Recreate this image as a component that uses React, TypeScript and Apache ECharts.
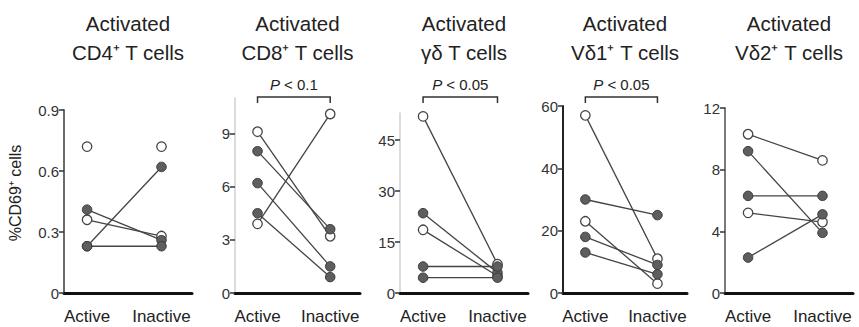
import React, { useEffect, useRef } from "react";
import * as echarts from "echarts";

const groups = ["Active", "Inactive"];

const panelTitles = [
  "Activated\nCD4⁺ T cells",
  "Activated\nCD8⁺ T cells",
  "Activated\nγδ T cells",
  "Activated\nVδ1⁺ T cells",
  "Activated\nVδ2⁺ T cells",
];

// each pair: [active, inactive]; filled = dark marker, open = white marker
const cd4Filled = [[0.23, 0.62], [0.41, 0.26], [0.23, 0.23]];
const cd4Open = [[0.36, 0.28]];
const cd4OpenUnlinked = [[0.72, 0.72]];

const cd8Filled = [[8.0, 3.6], [6.2, 1.5], [4.5, 0.9]];
const cd8Open = [[9.1, 3.2], [3.9, 10.1]];

const gdFilled = [[23.5, 6.0], [7.8, 7.8], [4.5, 4.5]];
const gdOpen = [[52, 8.5], [18.6, 5.0]];

const vd1Filled = [[30, 25], [18, 9], [13, 6]];
const vd1Open = [[57, 11], [23, 3]];

const vd2Filled = [[9.2, 3.9], [6.3, 6.3], [2.3, 5.1]];
const vd2Open = [[10.3, 8.6], [5.2, 4.6]];

const yTicks = [
  [0, 0.3, 0.6, 0.9],
  [0, 3, 6, 9],
  [0, 15, 30, 45],
  [0, 20, 40, 60],
  [0, 4, 8, 12],
];
const yMax = [0.9, 11, 53, 60, 12];

const pLabels = [null, "P < 0.1", "P < 0.05", "P < 0.05", null];

const panels = [
  { filled: cd4Filled, open: cd4Open, unlinked: cd4OpenUnlinked },
  { filled: cd8Filled, open: cd8Open, unlinked: [] },
  { filled: gdFilled, open: gdOpen, unlinked: [] },
  { filled: vd1Filled, open: vd1Open, unlinked: [] },
  { filled: vd2Filled, open: vd2Open, unlinked: [] },
];

// layout
const grids = [
  { left: 64, width: 128, top: 110, height: 183 },
  { left: 235, width: 125, top: 98, height: 195 },
  { left: 400, width: 128, top: 113, height: 180 },
  { left: 563, width: 124, top: 106, height: 187 },
  { left: 725, width: 128, top: 108, height: 185 },
];
const yAxisColors = ["#6a6a6a", "#d0d0d0", "#d0d0d0", "#222222", "#7a7a7a"];

const FONT = "'Liberation Sans', Arial, Helvetica, sans-serif";
const LINE = "#444";
const FILL = "#5e5e5e";

export default function App() {
  const ref = useRef<HTMLDivElement>(null);

  useEffect(() => {
    if (!ref.current) return;
    const chart = echarts.init(ref.current, undefined, { renderer: "svg" });

    const series: any[] = [];
    panels.forEach((p, i) => {
      const mk = (pair: number[], filled: boolean, linked: boolean) => ({
        type: "line",
        xAxisIndex: i,
        yAxisIndex: i,
        data: [[0, pair[0]], [1, pair[1]]],
        symbol: "circle",
        symbolSize: 9.5,
        z: filled ? 4 : 3,
        lineStyle: { color: LINE, width: linked ? 1.3 : 0, opacity: linked ? 1 : 0 },
        itemStyle: filled
          ? { color: FILL, borderColor: "#3a3a3a", borderWidth: 1 }
          : { color: "#ffffff", borderColor: "#444", borderWidth: 1.3 },
        emphasis: { disabled: true },
        silent: true,
      });
      p.open.forEach((pair) => series.push(mk(pair, false, true)));
      p.unlinked.forEach((pair) => series.push(mk(pair, false, false)));
      p.filled.forEach((pair) => series.push(mk(pair, true, true)));
    });

    const option: any = {
      animation: false,
      textStyle: { fontFamily: FONT },
      grid: grids.map((g) => ({ ...g, containLabel: false })),
      xAxis: grids.map((_, i) => ({
        type: "value",
        gridIndex: i,
        min: -0.31,
        max: 1.41,
        splitLine: { show: false },
        axisTick: { show: false },
        axisLine: { onZero: false, lineStyle: { color: "#111", width: 3 } },
        axisLabel: {
          customValues: [0, 1],
          formatter: (v: number) => groups[Math.round(v)],
          fontSize: 17,
          color: "#222",
          fontFamily: FONT,
          margin: 15,
        },
      })),
      yAxis: grids.map((_, i) => ({
        type: "value",
        gridIndex: i,
        min: 0,
        max: yMax[i],
        splitLine: { show: false },
        axisLine: {
          show: true,
          onZero: false,
          lineStyle: { color: yAxisColors[i], width: i === 1 || i === 2 ? 1.5 : 2 },
        },
        axisTick: {
          show: true,
          customValues: yTicks[i],
          length: 5,
          lineStyle: { color: "#333", width: 1.5 },
        },
        axisLabel: {
          customValues: yTicks[i],
          fontSize: 15,
          color: "#333",
          fontFamily: FONT,
          margin: 5,
        },
      })),
      series,
    };
    chart.setOption(option);

    const graphic: any[] = [];
    grids.forEach((g, i) => {
      graphic.push({
        type: "text",
        x: g.left + g.width / 2,
        y: 9,
        style: {
          text: panelTitles[i],
          fontSize: 20.5,
          lineHeight: 29,
          fontFamily: FONT,
          fill: "#222",
          textAlign: "center",
          textVerticalAlign: "top",
        },
      });
      const pl = pLabels[i];
      if (pl) {
        const x0 = chart.convertToPixel({ xAxisIndex: i } as any, 0) as number;
        const x1 = chart.convertToPixel({ xAxisIndex: i } as any, 1) as number;
        const by = 97;
        graphic.push({
          type: "polyline",
          shape: { points: [[x0, by + 6], [x0, by], [x1, by], [x1, by + 6]] },
          style: { stroke: "#333", lineWidth: 1.5, fill: null },
        });
        graphic.push({
          type: "text",
          x: (x0 + x1) / 2,
          y: 84,
          style: {
            text: "{i|P}" + pl.slice(1),
            rich: { i: { fontStyle: "italic", fontSize: 15, fontFamily: FONT, fill: "#222" } },
            fontSize: 15,
            fontFamily: FONT,
            fill: "#222",
            textAlign: "center",
            textVerticalAlign: "middle",
          },
        });
      }
    });
    graphic.push({
      type: "text",
      x: 15,
      y: 193,
      rotation: Math.PI / 2,
      style: {
        text: "%CD69⁺ cells",
        fontSize: 16,
        fontFamily: FONT,
        fill: "#222",
        textAlign: "center",
        textVerticalAlign: "middle",
      },
    });
    chart.setOption({ graphic });

    return () => chart.dispose();
  }, []);

  return (
    <div
      ref={ref}
      style={{ position: "absolute", left: 0, top: 0, width: 859, height: 327, background: "#fff" }}
    />
  );
}
